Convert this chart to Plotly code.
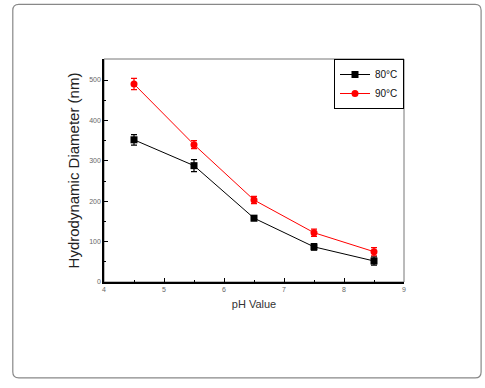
import plotly.graph_objects as go

ph = [4.5, 5.5, 6.5, 7.5, 8.5]
d80 = [352, 288, 158, 87, 52]
e80 = [13, 15, 6, 8, 10]
d90 = [490, 340, 203, 122, 75]
e90 = [14, 10, 9, 9, 10]
xticks = [4, 5, 6, 7, 8, 9]
yticks = [0, 100, 200, 300, 400, 500]

fig = go.Figure()
fig.add_trace(go.Scatter(x=ph, y=d80, name="80°C", mode="lines+markers",
                         line=dict(color="black", width=1),
                         marker=dict(symbol="square", size=7, color="black"),
                         error_y=dict(type="data", array=e80, color="black", thickness=1.2, width=3)))
fig.add_trace(go.Scatter(x=ph, y=d90, name="90°C", mode="lines+markers",
                         line=dict(color="red", width=1),
                         marker=dict(symbol="circle", size=7, color="red"),
                         error_y=dict(type="data", array=e90, color="red", thickness=1.2, width=3)))

axis_common = dict(showgrid=False, zeroline=False, ticks="inside", ticklen=4,
                   tickcolor="black", showline=True, linecolor="black", linewidth=1.5,
                   tickfont=dict(size=7, color="#666", family="Arial, Liberation Sans"),
                   minor=dict(ticks="inside", ticklen=2, tickcolor="black"))

fig.update_xaxes(range=[4, 9], tickvals=xticks, **axis_common,
                 title=dict(text="pH Value", font=dict(size=11, color="#333", family="Arial, Liberation Sans"), standoff=8))
fig.update_yaxes(range=[0, 552], tickvals=yticks, **axis_common,
                 title=dict(text="Hydrodynamic Diameter (nm)", font=dict(size=15, color="#222", family="Arial, Liberation Sans"), standoff=6))
fig.update_xaxes(minor=dict(dtick=0.5))
fig.update_yaxes(minor=dict(dtick=50))

# outer rounded frame (page coords converted to plot-area paper coords)
x0, x1, y0, y1, r = -0.304, 1.257, -0.430, 1.245, 0.02
ry = r * 300 / 223
path = (f"M {x0+r},{y1} L {x1-r},{y1} Q {x1},{y1} {x1},{y1-ry} "
        f"L {x1},{y0+ry} Q {x1},{y0} {x1-r},{y0} L {x0+r},{y0} Q {x0},{y0} {x0},{y0+ry} "
        f"L {x0},{y1-ry} Q {x0},{y1} {x0+r},{y1} Z")
fig.add_shape(type="path", xref="paper", yref="paper", path=path,
              line=dict(color="#888", width=1.2))
fig.add_shape(type="rect", xref="paper", yref="paper", x0=0, x1=1, y0=0, y1=1,
              line=dict(color="#777", width=1), layer="below")

fig.update_layout(width=485, height=388,
                  margin=dict(l=104, r=81, t=59, b=106),
                  paper_bgcolor="white", plot_bgcolor="white",
                  showlegend=True,
                  legend=dict(x=1, y=1, xanchor="right", yanchor="top",
                              bordercolor="black", borderwidth=1, bgcolor="white",
                              font=dict(size=10, color="#111", family="Arial, Liberation Sans"),
                              itemwidth=30, tracegroupgap=0))

fig.write_html("out.html", config={"displayModeBar": False},
               post_script="document.body.style.margin='0';")
